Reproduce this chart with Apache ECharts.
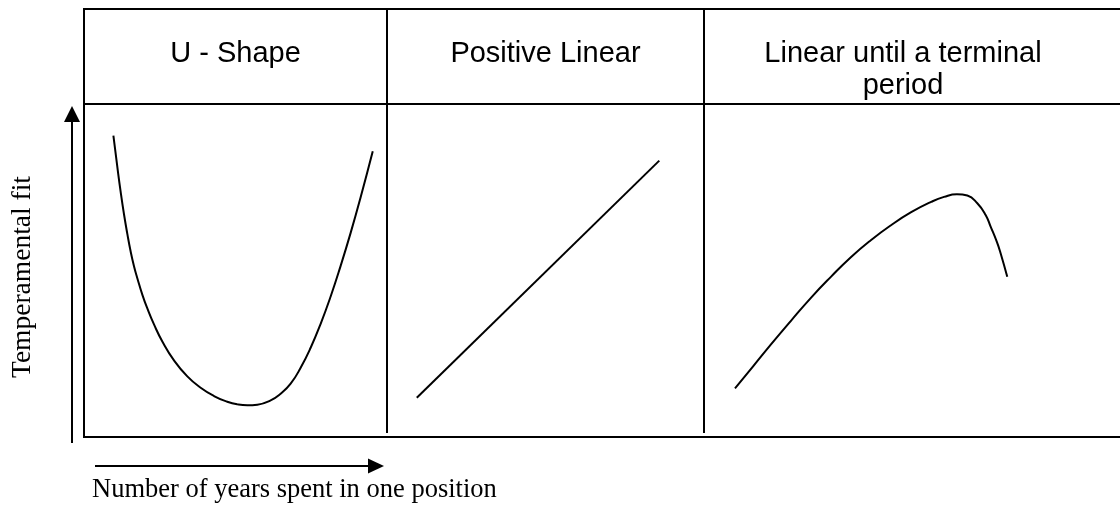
<!DOCTYPE html>
<html>
<head>
<meta charset="utf-8">
<title>Temperamental fit over tenure</title>
<script src="https://cdn.jsdelivr.net/npm/echarts@6/dist/echarts.min.js"></script>
<style>
  html, body { margin: 0; padding: 0; background: #fff; }
  #chart { width: 1120px; height: 507px; }
</style>
</head>
<body>
<div id="chart"></div>
<script>
// Panel headings
const panelTitles = ['U - Shape', 'Positive Linear', 'Linear until a terminal\nperiod'];

// Axis captions
const xCaption = 'Number of years spent in one position';
const yCaption = 'Temperamental fit';

// Curve points per panel, [years, fit] on a 0-100 scale
const uShape = [
  [9.7, 90.5], [11.0, 81.1], [12.1, 73.6], [13.2, 66.9], [14.3, 61.0],
  [15.4, 55.7], [16.5, 51.3], [17.6, 47.7], [19.3, 42.6], [20.9, 38.6],
  [23.1, 33.8], [25.9, 28.6], [29.7, 23.0], [34.1, 18.2], [38.5, 14.8],
  [42.9, 12.3], [47.3, 10.6], [50.6, 9.8], [53.9, 9.5], [57.2, 9.7],
  [61.6, 11.0], [64.9, 13.0], [68.2, 16.0], [71.5, 20.8], [74.8, 26.8],
  [78.1, 34.0], [81.4, 42.2], [84.7, 51.4], [88.0, 61.3], [91.3, 72.0],
  [95.3, 85.8]
];
const positiveLinear = [
  [9.4, 11.8], [85.9, 83.0]
];
const terminalPeriod = [
  [7.45, 14.6], [11.8, 21.2], [16.1, 27.8], [20.9, 34.9], [25.7, 41.8],
  [30.5, 48.1], [35.3, 54.0], [40.1, 59.1], [44.95, 63.6], [49.8, 67.5],
  [54.6, 70.6], [57.7, 72.1], [60.8, 72.9], [63.3, 72.5], [65.7, 70.2],
  [67.7, 66.7], [68.9, 63.2], [70.4, 58.6], [71.3, 55.2], [72.9, 48.1]
];

const panelSeries = [uShape, positiveLinear, terminalPeriod];

// Table geometry (pixels)
const tableLeft = 84, tableRight = 1120;
const tableTop = 9, headerBottom = 104, bodyBottom = 437;
const columnEdges = [84, 387, 704, 1120];

const INK = '#000';
const HEAD_FONT = '29px "Liberation Sans", Arial, sans-serif';
const X_CAPTION_FONT = '26.5px "Liberation Serif", "Times New Roman", serif';
const Y_CAPTION_FONT = '27.5px "Liberation Serif", "Times New Roman", serif';

const grids = [], xAxes = [], yAxes = [], series = [];
panelSeries.forEach((data, i) => {
  grids.push({
    left: columnEdges[i],
    top: headerBottom,
    width: columnEdges[i + 1] - columnEdges[i],
    height: bodyBottom - headerBottom,
    show: false
  });
  xAxes.push({ type: 'value', gridIndex: i, min: 0, max: 100, show: false });
  yAxes.push({ type: 'value', gridIndex: i, min: 0, max: 100, show: false });
  series.push({
    type: 'line',
    xAxisIndex: i,
    yAxisIndex: i,
    data: data,
    smooth: data.length > 2 ? 0.5 : false,
    symbol: 'none',
    lineStyle: { color: INK, width: 2 },
    silent: true,
    animation: false
  });
});

// Table rules
const rule = (x1, y1, x2, y2) => ({
  type: 'line',
  shape: { x1, y1, x2, y2 },
  style: { stroke: INK, lineWidth: 2 },
  silent: true
});
const graphics = [
  rule(tableLeft, tableTop, tableRight, tableTop),
  rule(tableLeft, headerBottom, tableRight, headerBottom),
  rule(tableLeft, bodyBottom, tableRight, bodyBottom),
  rule(tableLeft, tableTop - 1, tableLeft, bodyBottom + 1),
  rule(columnEdges[1], tableTop - 1, columnEdges[1], bodyBottom - 4),
  rule(columnEdges[2], tableTop - 1, columnEdges[2], bodyBottom - 4)
];

// Header labels
const titleCenters = [235.5, 545.5, 903];
panelTitles.forEach((t, i) => {
  const lines = t.split('\n').length;
  graphics.push({
    type: 'text',
    x: titleCenters[i],
    y: 54 + (lines - 1) * 16,
    silent: true,
    style: {
      text: t,
      font: HEAD_FONT,
      fill: INK,
      align: 'center',
      verticalAlign: 'middle',
      lineHeight: 32
    }
  });
});

// Vertical axis arrow
graphics.push(rule(72, 443, 72, 120));
graphics.push({
  type: 'polygon',
  shape: { points: [[72, 106], [64, 122], [80, 122]] },
  style: { fill: INK },
  silent: true
});
// Horizontal axis arrow
graphics.push(rule(95, 466, 369, 466));
graphics.push({
  type: 'polygon',
  shape: { points: [[384, 466], [368, 458.5], [368, 473.5]] },
  style: { fill: INK },
  silent: true
});

// Axis captions
graphics.push({
  type: 'text',
  x: 92,
  y: 490,
  silent: true,
  style: { text: xCaption, font: X_CAPTION_FONT, fill: INK, align: 'left', verticalAlign: 'middle' }
});
graphics.push({
  type: 'text',
  x: 23,
  y: 277,
  rotation: Math.PI / 2,
  silent: true,
  style: { text: yCaption, font: Y_CAPTION_FONT, fill: INK, align: 'center', verticalAlign: 'middle' }
});

const chart = echarts.init(document.getElementById('chart'), null, { renderer: 'canvas' });
chart.setOption({
  backgroundColor: '#fff',
  animation: false,
  grid: grids,
  xAxis: xAxes,
  yAxis: yAxes,
  series: series,
  graphic: graphics
});
</script>
</body>
</html>
